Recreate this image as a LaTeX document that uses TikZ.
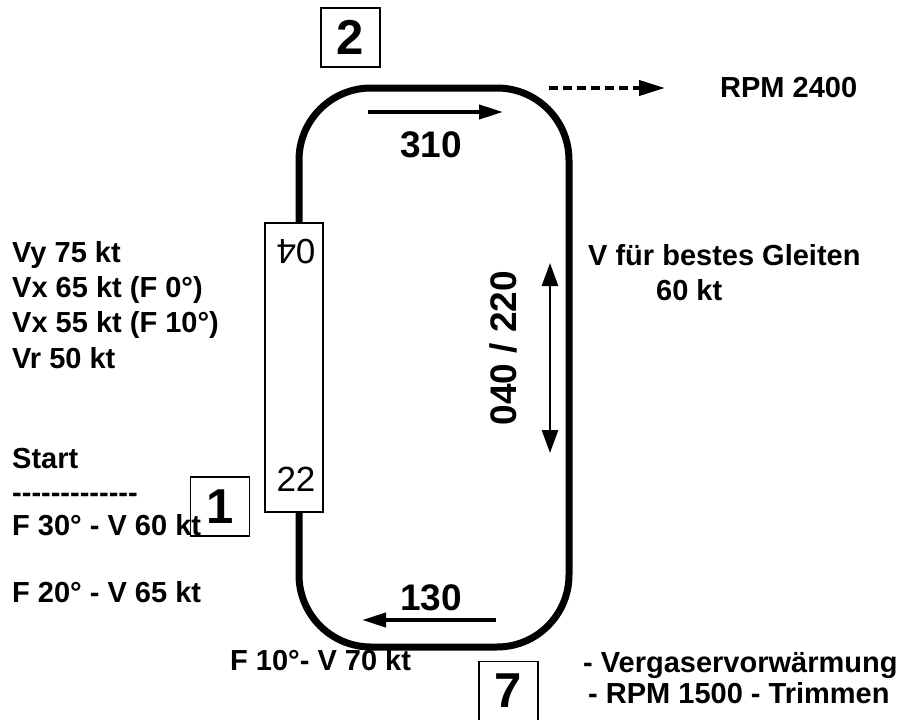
\documentclass[tikz,border=0pt]{standalone}
\usepackage{fontspec}
\setmainfont{Liberation Sans}
\usetikzlibrary{arrows.meta, positioning}
\tikzset{
  % traffic circuit
  track/.style={line width=7pt, rounded corners=72pt},
  % runway strip
  runway/.style={
    rectangle, draw, line width=1.2pt, fill=white,
    minimum width=58pt, minimum height=289pt, inner sep=0pt
  },
  rwylbl/.style={inner sep=0pt, font=\fontsize{35}{38}\selectfont},
  % numbered position box
  numbox/.style={
    rectangle, draw, line width=1.2pt,
    minimum width=59pt, minimum height=59pt, inner sep=0pt,
    font=\fontsize{49}{50}\selectfont\bfseries
  },
  % text labels
  lbl/.style={anchor=base west, inner sep=0pt, font=\fontsize{29}{32}\selectfont\bfseries},
  hdg/.style={inner sep=0pt, font=\fontsize{37}{38}\selectfont\bfseries},
  % arrows
  arr/.style={-{Triangle[length=24pt,width=14pt]}, line width=4pt},
  darr/.style={-{Triangle[length=26pt,width=15pt]}, line width=4pt, dash pattern=on 9pt off 5pt},
  rarr/.style={{Triangle[length=23pt,width=16pt]}-{Triangle[length=23pt,width=16pt]}, line width=2.7pt},
}

\begin{document}
\begin{tikzpicture}[x=1pt, y=-1pt]
  \useasboundingbox (0,0) rectangle (906,720);

  %% Circuit and runway
  \draw[track] (299,88) rectangle (569,647);
  \node[runway] (rwy) at (294,367.5) {};
  \node[rwylbl, rotate=180] (rwyA) at (296,252) {04};
  \node[rwylbl] (rwyB) at (296,479) {22};

  %% Legs
  \coordinate (dwA) at (368,112);
  \coordinate (dwB) at (503,112);
  \draw[arr] (dwA) -- (dwB);
  \node[hdg] (dwlbl) at (431,145) {310};

  \coordinate (bsA) at (496,620);
  \coordinate (bsB) at (362,620);
  \draw[arr] (bsA) -- (bsB);
  \node[hdg] (bslbl) at (431,597.5) {130};

  \coordinate (upA) at (550,453);
  \coordinate (upB) at (550,263);
  \draw[rarr] (upA) -- (upB);
  \node[hdg, rotate=90] (uplbl) at (503,348) {040 / 220};

  \coordinate (rpmA) at (549,88);
  \coordinate (rpmB) at (665,88);
  \draw[darr] (rpmA) -- (rpmB);
  \node[lbl] (rpm) at (720,97) {RPM 2400};

  %% Speeds
  \node[lbl] (vy) at (12,262) {Vy 75 kt};
  \node[lbl] (vxa) at (12,297) {Vx 65 kt (F 0°)};
  \node[lbl] (vxb) at (12,332) {Vx 55 kt (F 10°)};
  \node[lbl] (vr) at (12,368) {Vr 50 kt};

  \node[lbl] (start) at (12,468) {Start};
  \node[lbl] (rule) at (12,502) {-{}-{}-{}-{}-{}-{}-{}-{}-{}-{}-{}-{}-};
  \node[lbl] (flapA) at (12,535) {F 30° - V 60 kt};
  \node[lbl] (flapB) at (12,602) {F 20° - V 65 kt};
  \node[lbl] (flapC) at (230,670) {F 10°- V 70 kt};

  \node[lbl] (glide) at (588,265) {V für bestes Gleiten};
  \node[lbl] (glideV) at (656,300) {60 kt};

  \node[lbl] (carb) at (583,672) {- Vergaservorwärmung};
  \node[lbl] (trim) at (588,703) {- RPM 1500 - Trimmen};

  %% Position boxes
  \node[numbox] (pos2) at (350.5,37.5) {2};
  \node[numbox] (pos1) at (220,506.5) {1};
  \node[numbox] (pos7) at (508.5,691) {7};

\end{tikzpicture}
\end{document}
